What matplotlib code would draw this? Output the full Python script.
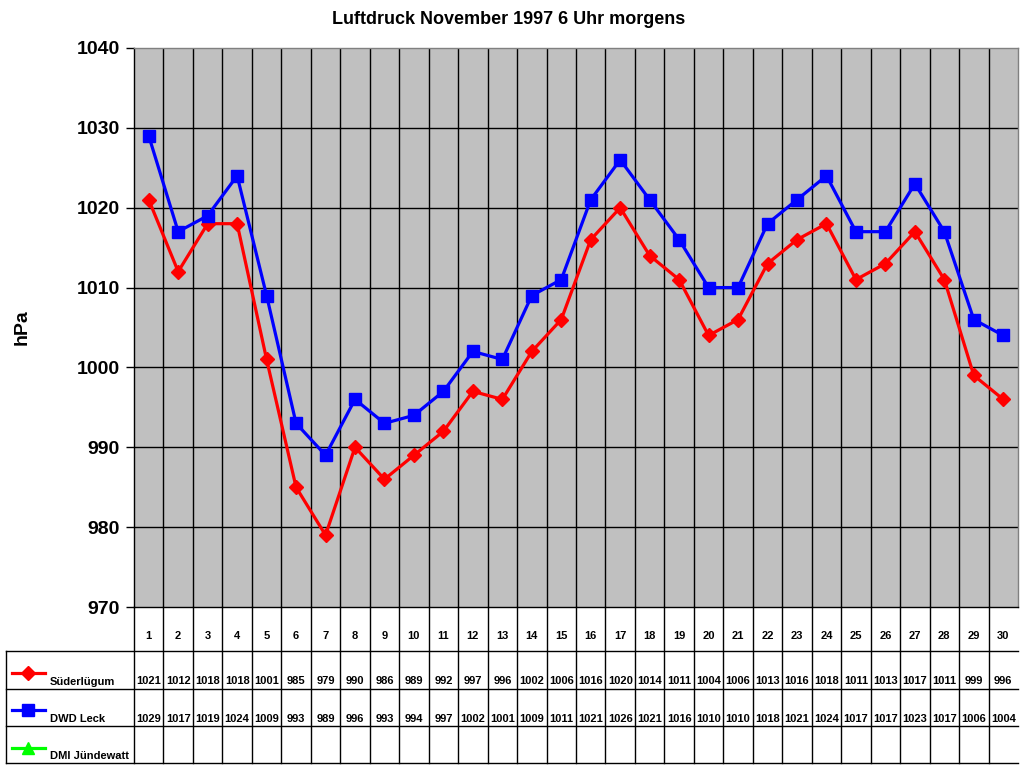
import matplotlib
matplotlib.use("Agg")
import matplotlib.pyplot as plt

plt.rcParams['font.family'] = ['Liberation Sans', 'DejaVu Sans']

# Werte
tage = list(range(1, 31))
suederluegum = [1021, 1012, 1018, 1018, 1001, 985, 979, 990, 986, 989,
                992, 997, 996, 1002, 1006, 1016, 1020, 1014, 1011, 1004,
                1006, 1013, 1016, 1018, 1011, 1013, 1017, 1011, 999, 996]
dwd_leck = [1029, 1017, 1019, 1024, 1009, 993, 989, 996, 993, 994,
            997, 1002, 1001, 1009, 1011, 1021, 1026, 1021, 1016, 1010,
            1010, 1018, 1021, 1024, 1017, 1017, 1023, 1017, 1006, 1004]
dmi_juendewatt = []  # keine Werte
namen = ["Süderlügum", "DWD Leck", "DMI Jündewatt"]
farben = ["#FF0000", "#0000FF", "#00FF00"]
marker = ["D", "s", "^"]
y_ticks = [970, 980, 990, 1000, 1010, 1020, 1030, 1040]

W, H = 1024, 768
fig = plt.figure(figsize=(W / 100, H / 100), dpi=100)

# Diagrammbereich in Pixeln
left, right, top, bottom = 134, 1018, 48, 607
ax = fig.add_axes([left / W, 1 - bottom / H, (right - left) / W, (bottom - top) / H])
ax.set_facecolor("#C0C0C0")
ax.set_xlim(0.5, 30.5)
ax.set_ylim(970, 1040)
ax.set_yticks(y_ticks)
ax.set_yticklabels([str(v) for v in y_ticks], fontsize=14, fontweight="bold")
ax.set_xticks([])
ax.tick_params(axis="y", length=6, width=1, color="black", pad=4)
for yv in y_ticks[1:-1]:
    ax.axhline(yv, color="black", lw=1.0, zorder=1)
for i in range(1, 30):
    ax.axvline(i + 0.5, color="black", lw=1.0, zorder=1)
ax.spines["top"].set_color("#808080")
ax.spines["right"].set_color("#808080")
ax.spines["left"].set_color("black")
ax.spines["bottom"].set_color("black")
for s in ax.spines.values():
    s.set_linewidth(1.0)

ax.plot(tage, suederluegum, color=farben[0], lw=2.3, marker=marker[0],
        markersize=7, zorder=3, clip_on=False)
ax.plot(tage, dwd_leck, color=farben[1], lw=2.3, marker=marker[1],
        markersize=9, zorder=4, clip_on=False)

ax.set_ylabel("hPa", fontsize=14, fontweight="bold")
ax.yaxis.set_label_coords(-(left - 31) / (right - left), 0.5)
fig.text(509 / W, 1 - 20 / H, "Luftdruck November 1997 6 Uhr morgens",
         ha="center", va="center", fontsize=13, fontweight="bold")

# Datentabelle unter dem Diagramm
tb = 763
tab = fig.add_axes([left / W, 1 - tb / H, (right - left) / W, (tb - bottom) / H])
tab.set_xlim(0.5, 30.5)
tab.set_ylim(0, tb - bottom)
tab.axis("off")
x_links = 0.5 - (left - 6) / (right - left) * 30

zeilen = [tb - 651, tb - 689, tb - 726, 0]
for yz in zeilen:
    tab.plot([x_links, 30.5], [yz, yz], color="black", lw=1.0, clip_on=False)
tab.plot([x_links, x_links], [0, zeilen[0]], color="black", lw=1.0, clip_on=False)
for i in range(0, 30):
    tab.plot([i + 0.5, i + 0.5], [0, tb - bottom], color="black", lw=1.0, clip_on=False)

for t in tage:
    tab.text(t, tb - 636, str(t), ha="center", va="center", fontsize=8, fontweight="bold")
for t, v in zip(tage, suederluegum):
    tab.text(t, tb - 681, str(v), ha="center", va="center", fontsize=8, fontweight="bold")
for t, v in zip(tage, dwd_leck):
    tab.text(t, tb - 719, str(v), ha="center", va="center", fontsize=8, fontweight="bold")

# Legende in der Tabelle
px = (right - left) / 30
leg_y = [tb - 673, tb - 710, tb - 748]
txt_y = [tb - 682, tb - 719, tb - 756]
for k in range(3):
    x0 = 0.5 - (left - 12) / px
    x1 = 0.5 - (left - 45) / px
    tab.plot([x0, x1], [leg_y[k], leg_y[k]], color=farben[k], lw=2.3, clip_on=False)
    tab.plot([(x0 + x1) / 2], [leg_y[k]], color=farben[k], marker=marker[k],
             markersize=[7, 9, 9][k], clip_on=False)
    tab.text(0.5 - (left - 50) / px, txt_y[k], namen[k], ha="left", va="center",
             fontsize=8, fontweight="bold")

fig.savefig("out.png", dpi=100)
